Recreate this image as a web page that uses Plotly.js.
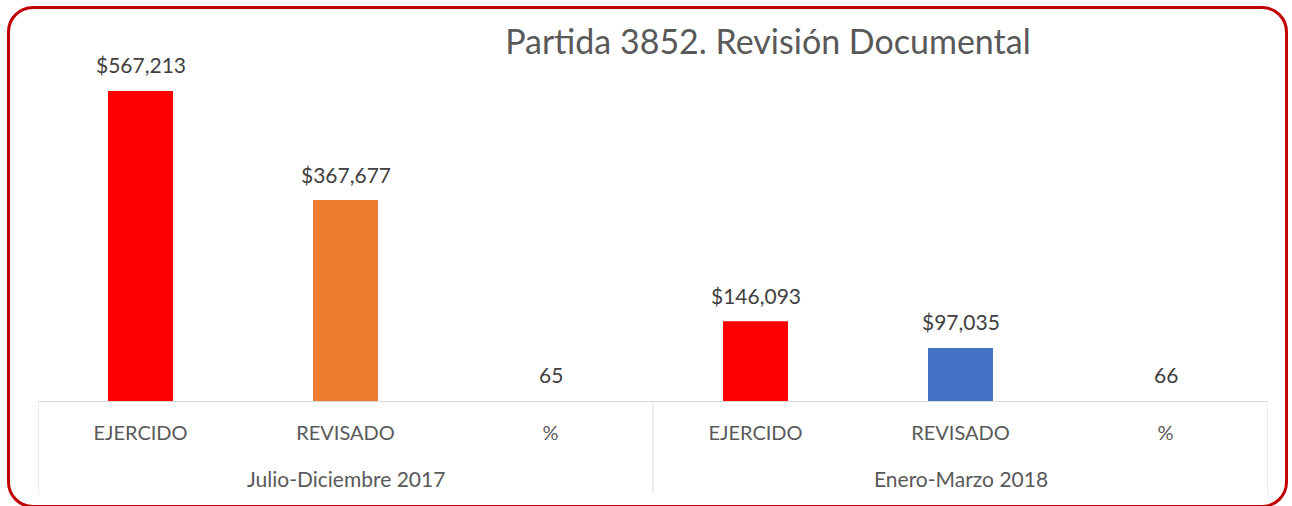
<!DOCTYPE html>
<html>
<head>
<meta charset="utf-8">
<script src="https://cdn.plot.ly/plotly-3.0.1.min.js"></script>
<style>
  html, body { margin: 0; padding: 0; background: #fff; overflow: hidden; }
  #frame {
    position: absolute; left: 7px; top: 6px; width: 1281px; height: 502px;
    border: 3px solid #C00000; border-radius: 26px; box-sizing: border-box;
  }
  #chart { position: absolute; left: 0; top: 0; width: 1292px; height: 506px; }
</style>
</head>
<body>
<div id="chart"></div>
<div id="frame"></div>
<script>
const groups = ["Julio-Diciembre 2017", "Julio-Diciembre 2017", "Julio-Diciembre 2017",
                "Enero-Marzo 2018", "Enero-Marzo 2018", "Enero-Marzo 2018"];
const categories = ["EJERCIDO", "REVISADO", "%", "EJERCIDO", "REVISADO", "%"];
const values = [567213, 367677, 65, 146093, 97035, 66];
const isMoney = [true, true, false, true, true, false];
const barColors = ["#FF0000", "#ED7D31", "#A5A5A5", "#FF0000", "#4472C4", "#A5A5A5"];

const labels = values.map((v, i) => isMoney[i] ? "$" + v.toLocaleString("en-US") : String(v));
const keys = categories.map((c, i) => groups[i] + " | " + c);

const trace = {
  type: "bar",
  x: keys,
  y: values,
  marker: { color: barColors },
  width: 0.317,
  hoverinfo: "none"
};

// value labels above bars
const annotations = values.map((v, i) => ({
  x: keys[i], y: v, xref: "x", yref: "y",
  text: labels[i], showarrow: false,
  yanchor: "middle", yshift: 26,
  font: { family: "Lato, sans-serif", size: 21, color: "#404040" }
}));

// group labels, centred under each group
const uniqueGroups = [...new Set(groups)];
uniqueGroups.forEach(g => {
  const idx = groups.map((x, i) => x === g ? i : -1).filter(i => i >= 0);
  const mid = (idx[0] + idx[idx.length - 1]) / 2;
  annotations.push({
    x: mid, xref: "x", y: -0.2021, yref: "paper",
    text: g, showarrow: false, yanchor: "middle",
    font: { family: "Lato, sans-serif", size: 21, color: "#595959" }
  });
});

// dividers at group boundaries
const shapes = [];
const bounds = [-0.5];
groups.forEach((g, i) => { if (i > 0 && g !== groups[i - 1]) bounds.push(i - 0.5); });
bounds.push(groups.length - 0.5);
bounds.forEach(b => shapes.push({
  type: "line", xref: "x", yref: "paper", x0: b, x1: b, y0: 0, y1: -0.244,
  line: { color: "#D9D9D9", width: 1 }
}));

const layout = {
  width: 1292, height: 506,
  margin: { l: 38, r: 24, t: 20, b: 105 },
  paper_bgcolor: "rgba(0,0,0,0)",
  plot_bgcolor: "rgba(0,0,0,0)",
  showlegend: false,
  title: {
    text: "Partida 3852. Revisión Documental",
    x: 0.5944, xanchor: "center", y: 0.917, yanchor: "middle",
    font: { family: "Lato, sans-serif", size: 34, color: "#595959" }
  },
  xaxis: {
    type: "category",
    tickmode: "array", tickvals: keys, ticktext: categories,
    range: [-0.5, groups.length - 0.5],
    showline: true, linecolor: "#D9D9D9", linewidth: 1,
    ticks: "",
    ticklabelstandoff: 14,
    tickfont: { family: "Lato, sans-serif", size: 20, color: "#595959" },
    showgrid: false, zeroline: false
  },
  yaxis: {
    range: [0, 697000],
    visible: false, showgrid: false, zeroline: false
  },
  annotations: annotations,
  shapes: shapes
};

Plotly.newPlot("chart", [trace], layout, { displayModeBar: false, staticPlot: true });
</script>
</body>
</html>
